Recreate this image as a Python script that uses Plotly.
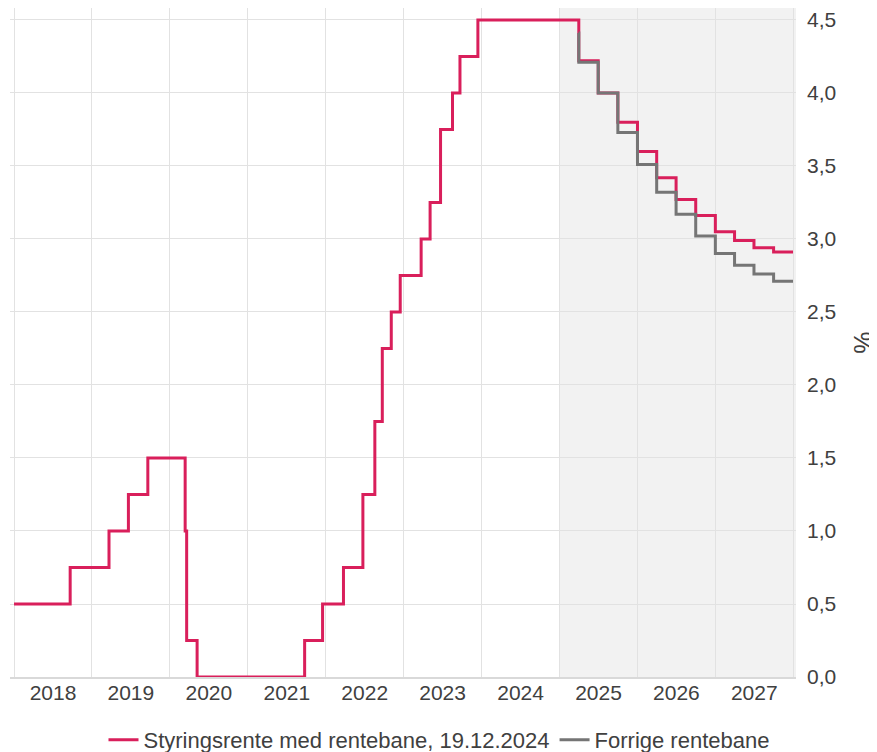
import plotly.graph_objects as go

# styringsrente, historikk (virkningsdato, nivå)
hist_dates = ["2018-01-01", "2018-09-21", "2019-03-22", "2019-06-21", "2019-09-20",
              "2020-03-13", "2020-03-20", "2020-05-08", "2021-09-24", "2021-12-17",
              "2022-03-25", "2022-06-24", "2022-08-19", "2022-09-23", "2022-11-04",
              "2022-12-16", "2023-03-24", "2023-05-05", "2023-06-23", "2023-08-18",
              "2023-09-22", "2023-12-15"]
hist_rate = [0.5, 0.75, 1.0, 1.25, 1.5,
             1.0, 0.25, 0.0, 0.25, 0.5,
             0.75, 1.25, 1.75, 2.25, 2.5,
             2.75, 3.0, 3.25, 3.75, 4.0,
             4.25, 4.5]

# rentebaner per kvartal
path_dates = ["2025-04-01", "2025-07-01", "2025-10-01", "2026-01-01", "2026-04-01",
              "2026-07-01", "2026-10-01", "2027-01-01", "2027-04-01", "2027-07-01",
              "2027-10-01", "2027-12-31"]
ny_bane = [4.22, 4.0, 3.8, 3.6, 3.42, 3.27, 3.16, 3.05, 2.99, 2.94, 2.91, 2.91]
forrige_start = ["2025-03-31"]
forrige_start_val = [4.41]
forrige_bane = [4.21, 4.0, 3.73, 3.51, 3.32, 3.17, 3.02, 2.90, 2.82, 2.76, 2.71, 2.71]

font = "Liberation Sans, Arial, sans-serif"
rosa = "#d91f5b"
graa = "#757575"

fig = go.Figure()
fig.add_trace(go.Scatter(
    x=hist_dates + path_dates, y=hist_rate + ny_bane,
    mode="lines", line=dict(color=rosa, width=3, shape="hv"),
    name="Styringsrente med rentebane, 19.12.2024"))
fig.add_trace(go.Scatter(
    x=forrige_start + path_dates, y=forrige_start_val + forrige_bane,
    mode="lines", line=dict(color=graa, width=3, shape="hv"),
    name="Forrige rentebane"))

# prognoseperiode
fig.add_shape(type="rect", xref="x", yref="paper", x0="2025-01-01", x1="2028-01-14",
              y0=0, y1=1, fillcolor="#f2f2f2", line_width=0, layer="below")

# siden ligger 8 px inn i vinduet (body-marg), så figuren gjøres tilsvarende mindre
fig.update_layout(
    width=869, height=744,
    margin=dict(l=2, r=81, t=0, b=75),
    paper_bgcolor="white", plot_bgcolor="white",
    font=dict(family=font, size=21, color="#404040"),
    separators=", ",
    showlegend=True,
    legend=dict(orientation="h", xref="paper", x=0.5458, xanchor="center",
                yref="container", y=0.0161, yanchor="middle",
                font=dict(size=22), itemwidth=30, tracegroupgap=0),
)
fig.update_xaxes(
    range=["2017-12-13", "2028-01-14"], automargin=False,
    dtick="M12", tick0="2018-01-01", tickformat="%Y", ticklabelmode="period",
    showgrid=True, gridcolor="#e2e2e2", gridwidth=1,
    showline=True, linecolor="#d9d9d9", linewidth=2,
    ticks="", ticklabelstandoff=-4,
)
fig.update_yaxes(
    side="right", range=[0, 4.582], dtick=0.5, tickformat=".1f", automargin=False,
    showgrid=True, gridcolor="#e2e2e2", gridwidth=1, zeroline=False,
    ticks="", ticklabelstandoff=10,
    title=dict(text="%", standoff=25),
)

fig.write_html("out.html")
